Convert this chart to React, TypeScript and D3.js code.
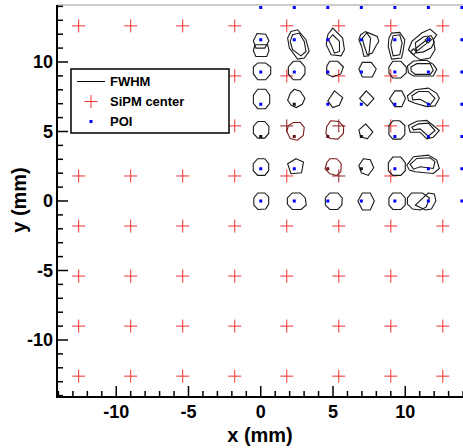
import React from "react";
import * as d3 from "d3";

// SiPM centres (mm), 8 x 8 grid
const sipmX = [-12.6, -9.0, -5.4, -1.8, 1.8, 5.4, 9.0, 12.6];
const sipmY = [-12.6, -9.0, -5.4, -1.8, 1.8, 5.4, 9.0, 12.6];
// crosses that came out dark red in the original
const darkSipm = [[1.8, 5.4], [5.4, 5.4], [5.4, 1.8]];

// points of interest (mm), 7 x 7 grid
const poiX = [0, 2.32, 4.64, 6.96, 9.28, 11.6, 13.92];
const poiY = [0, 2.32, 4.64, 6.96, 9.28, 11.6, 13.92];
// POI markers drawn black / dark red (column, row)
const blackPoi = [[0, 2], [1, 3], [3, 1], [3, 2]];
const redPoi = [[1, 2], [2, 2], [2, 1]];

// FWHM contours: vertices as offsets (mm) from the POI at (col, row)
const fwhmContours = [
  // row 0
  { c: 0, r: 0, pts: [[-0.2, 0.58], [0.28, 0.58], [0.55, 0.29], [0.55, -0.22], [0.34, -0.58], [-0.2, -0.61], [-0.48, -0.29], [-0.48, 0.22]] },
  { c: 1, r: 0, pts: [[-0.14, 0.58], [0.41, 0.58], [0.76, 0.22], [0.83, -0.29], [0.48, -0.61], [-0.14, -0.61], [-0.48, -0.22], [-0.48, 0.22]] },
  { c: 2, r: 0, pts: [[0.14, 0.58], [0.69, 0.58], [1.0, 0.22], [0.97, -0.29], [0.69, -0.61], [0.14, -0.61], [-0.17, -0.29], [-0.17, 0.22]] },
  { c: 3, r: 0, pts: [[0.07, 0.58], [0.62, 0.58], [0.9, 0], [0.62, -0.65], [0.07, -0.65], [-0.24, 0]] },
  { c: 4, r: 0, pts: [[-0.14, 0.58], [0.41, 0.58], [0.72, 0.22], [0.72, -0.29], [0.41, -0.61], [-0.14, -0.61], [-0.41, -0.29], [-0.41, 0.22]] },
  { c: 5, r: 0, pts: [[-1.17, 0.58], [-0.41, 0.58], [0.07, 0.22], [-0.14, -0.43], [-0.55, -0.65], [-1.1, -0.58], [-1.45, -0.22], [-1.45, 0.22]] },
  { c: 5, r: 0, pts: [[0, 0.58], [0.41, 0.51], [0.52, 0], [0.21, -0.58], [-0.21, -0.65], [-0.9, -0.29]] },
  // row 1
  { c: 0, r: 1, pts: [[-0.21, 0.72], [0.28, 0.72], [0.55, 0.36], [0.55, -0.14], [0.28, -0.48], [-0.21, -0.48], [-0.52, -0.14], [-0.52, 0.36]] },
  { c: 1, r: 1, pts: [[0.12, 0.72], [0.64, 0.48], [0.5, -0.29], [-0.23, -0.36], [-0.46, 0.36]] },
  { c: 2, r: 1, red: true, pts: [[0.14, 0.72], [0.62, 0.72], [0.93, 0.36], [0.9, -0.22], [0.62, -0.48], [0.14, -0.36], [-0.19, 0], [-0.07, 0.43]] },
  { c: 3, r: 1, pts: [[0.14, 0.72], [0.62, 0.65], [0.86, 0.07], [0.48, -0.48], [0, -0.29], [-0.17, 0.22]] },
  { c: 4, r: 1, pts: [[-0.14, 0.84], [0.41, 0.84], [0.72, 0.43], [0.72, -0.14], [0.41, -0.48], [-0.14, -0.48], [-0.45, -0.14], [-0.45, 0.43]] },
  { c: 5, r: 1, pts: [[-1.49, 0.26], [-1.03, 0.87], [0, 0.98], [0.58, 0.62], [0.76, 0.02], [0.34, -0.34], [-0.92, -0.22], [-1.31, -0.1]] },
  { c: 5, r: 1, pts: [[-1.26, 0.31], [-0.8, 0.74], [0.12, 0.79], [0.46, 0.51], [0.34, 0.02], [-0.57, 0.14], [-1.03, -0.03]] },
  // row 2
  { c: 0, r: 2, pts: [[-0.21, 1.08], [0.28, 1.08], [0.57, 0.72], [0.55, 0.22], [0.28, -0.12], [-0.21, -0.12], [-0.51, 0.22], [-0.51, 0.72]] },
  { c: 1, r: 2, red: true, pts: [[-0.07, 1.01], [0.41, 1.01], [0.69, 0.65], [0.62, 0.07], [0.21, -0.27], [-0.28, -0.14], [-0.52, 0.36], [-0.41, 0.79]] },
  { c: 2, r: 2, red: true, pts: [[0.21, 1.13], [0.76, 1.08], [1.1, 0.72], [1.08, 0.22], [0.69, -0.19], [0.14, -0.14], [-0.14, 0.22], [-0.07, 0.72]] },
  { c: 3, r: 2, pts: [[0.3, 0.9], [0.8, 0.32], [0.41, -0.17], [-0.05, 0], [-0.17, 0.48]] },
  { c: 4, r: 2, pts: [[-0.14, 1.13], [0.34, 1.13], [0.69, 0.79], [0.69, 0.14], [0.41, -0.19], [-0.14, -0.19], [-0.41, 0.14], [-0.41, 0.79]] },
  { c: 5, r: 2, pts: [[-1.38, 0.79], [-0.8, 1.1], [-0.11, 1.16], [0.34, 0.79], [0.76, 0.43], [0.34, -0.05], [-0.11, -0.17], [-0.57, 0.31], [-1.26, 0.31]] },
  { c: 5, r: 2, pts: [[-1.14, 0.67], [-0.69, 0.91], [0, 0.96], [0.46, 0.43], [0, 0.02], [-0.57, 0.55], [-1.03, 0.48]] },
  // row 3
  { c: 0, r: 3, pts: [[-0.21, 1.08], [0.34, 1.08], [0.62, 0.65], [0.62, 0.07], [0.34, -0.32], [-0.21, -0.32], [-0.51, 0.07], [-0.51, 0.65]] },
  { c: 1, r: 3, pts: [[0, 1.08], [0.41, 0.94], [0.74, 0.43], [0.55, 0], [0.14, -0.24], [-0.21, -0.07], [-0.46, 0.29], [-0.28, 0.79]] },
  { c: 2, r: 3, pts: [[0.46, 0.96], [1.03, 0.48], [0.8, -0.07], [0.34, -0.24], [0, 0.24]] },
  { c: 3, r: 3, pts: [[0.34, 0.96], [0.87, 0.41], [0.41, -0.12], [-0.12, 0.41]] },
  { c: 4, r: 3, pts: [[0, 0.96], [0.48, 0.96], [0.74, 0.43], [0.48, -0.17], [0, -0.17], [-0.37, 0.4]] },
  { c: 5, r: 3, pts: [[-1.45, 0.61], [-0.92, 1.04], [0, 1.16], [0.58, 0.79], [0.76, 0.43], [0.46, -0.12], [-0.11, -0.17], [-0.92, 0.07], [-1.38, 0.27]] },
  { c: 5, r: 3, pts: [[-1.14, 0.61], [-0.69, 0.92], [0, 0.92], [0.46, 0.43], [0.12, -0.04], [-0.57, 0.36], [-1.08, 0.32]] },
  // row 4
  { c: 0, r: 4, pts: [[-0.21, 0.65], [0.34, 0.65], [0.69, 0.36], [0.69, -0.14], [0.34, -0.56], [-0.21, -0.56], [-0.51, -0.14], [-0.51, 0.36]] },
  { c: 1, r: 4, pts: [[-0.07, 0.77], [0.41, 0.77], [0.74, 0.36], [0.74, -0.14], [0.41, -0.56], [-0.07, -0.56], [-0.41, -0.14], [-0.41, 0.36]] },
  { c: 2, r: 4, pts: [[0.14, 0.77], [0.69, 0.77], [1.08, 0.36], [0.9, -0.14], [0.34, -0.36], [-0.07, -0.14], [-0.07, 0.43]] },
  { c: 3, r: 4, pts: [[0.07, 0.69], [0.69, 0.69], [1.03, 0.22], [0.76, -0.36], [0.07, -0.36], [-0.17, 0.22]] },
  { c: 4, r: 4, pts: [[-0.14, 0.77], [0.41, 0.77], [0.79, 0.36], [0.79, -0.07], [0.41, -0.43], [-0.14, -0.43], [-0.41, -0.07], [-0.41, 0.36]] },
  { c: 5, r: 4, pts: [[-1.45, 0.43], [-1.03, 0.79], [-0.11, 0.84], [0.34, 0.55], [0.58, 0.19], [0.34, -0.29], [-1.03, -0.29], [-1.38, -0.05]] },
  { c: 5, r: 4, pts: [[-1.21, 0.36], [-0.8, 0.6], [0.12, 0.6], [0.34, 0.12], [0.12, -0.17], [-0.92, -0.17], [-1.19, 0.07]] },
  // row 5
  { c: 0, r: 5, pts: [[-0.26, 0.45], [0.34, 0.4], [0.57, -0.07], [0.28, -0.6], [-0.34, -0.6], [-0.51, -0.07]] },
  { c: 0, r: 5, pts: [[-0.41, -0.36], [0.48, -0.36], [0.57, -0.79], [0.41, -1.2], [-0.34, -1.2], [-0.51, -0.79]] },
  { c: 1, r: 5, pts: [[-0.23, 0.6], [0.23, 0.72], [0.81, 0], [1.03, -0.84], [0.69, -1.32], [0.23, -1.39], [-0.34, -0.6], [-0.46, 0.12]] },
  { c: 1, r: 5, pts: [[-0.12, 0.36], [0.34, 0.48], [0.69, -0.12], [0.81, -0.84], [0.46, -1.16], [-0.12, -0.72], [-0.28, -0.12]] },
  { c: 2, r: 5, pts: [[0.34, 0.84], [1.03, 0.12], [1.15, -0.72], [0.92, -1.16], [0.23, -1.08], [-0.11, -0.36], [0, 0.36]] },
  { c: 2, r: 5, pts: [[0.34, 0.36], [0.81, -0.12], [0.81, -0.84], [0.46, -0.96], [0.28, -0.48], [0.05, 0]] },
  { c: 3, r: 5, pts: [[-0.05, 0.36], [0.3, 0.6], [0.64, 0.12], [0.57, -0.6], [0.52, -1.16], [0.18, -1.2], [0.02, -0.48], [-0.17, 0]] },
  { c: 3, r: 5, pts: [[0.41, 0.53], [1.1, 0.24], [1.21, -0.12], [0.99, -0.48], [0.76, -0.96], [0.41, -1.08], [0.18, -0.36], [0.07, 0.12]] },
  { c: 4, r: 5, pts: [[-0.23, 0.48], [0.34, 0.53], [0.69, 0], [0.57, -0.84], [0.46, -1.32], [-0.23, -1.39], [-0.46, -0.48], [-0.41, 0.12]] },
  { c: 4, r: 5, pts: [[-0.12, 0.29], [0.34, 0.36], [0.5, -0.24], [0.34, -1.08], [-0.12, -1.16], [-0.28, -0.36]] },
  { c: 5, r: 5, pts: [[-1.38, -0.72], [-1.14, -0.12], [-0.46, 0.48], [0.12, 0.77], [0.58, 0.36], [0.34, 0], [0.46, -0.72], [0.12, -1.32], [-0.57, -1.44], [-0.92, -1.2]] },
  { c: 5, r: 5, pts: [[-0.9, -0.22], [-0.34, 0.22], [0.21, 0.29], [0.41, -0.14], [0.21, -0.58], [-0.34, -0.87], [-0.83, -0.94]] },
  { c: 5, r: 5, pts: [[-1.03, -0.65], [-0.83, -0.87], [-1.03, -1.08], [-1.24, -0.87]] },
  { c: 5, r: 5, pts: [[0, 0.22], [0.21, 0], [0, -0.22], [-0.21, 0]] },
  { c: 5, r: 5, pts: [[-0.9, -0.65], [-0.21, -0.07], [-0.07, -0.22], [-0.76, -0.79]] },
];

const majorTicks = [-10, -5, 0, 5, 10];
const minorTicks = d3.range(-14, 15, 1);

const legendItems = ["FWHM", "SiPM center", "POI"];

const FONT = "'Liberation Sans', Arial, Helvetica, sans-serif";

const App = () => {
  const width = 463;
  const height = 448;
  const plot = { left: 57, right: 464.5, top: 5, bottom: 397 };

  const x = d3.scaleLinear().domain([-14.1, 14.1]).range([plot.left, plot.right]);
  const y = d3.scaleLinear().domain([-14.1, 14.1]).range([plot.bottom, plot.top]);

  const line = d3.line<number[]>()
    .x(d => x(d[0]))
    .y(d => y(d[1]))
    .curve(d3.curveLinearClosed);

  const isIn = (list: number[][], a: number, b: number) =>
    list.some(p => Math.abs(p[0] - a) < 1e-6 && Math.abs(p[1] - b) < 1e-6);

  const cross = 6.5;

  // SiPM centre crosses
  const sipms: { cx: number; cy: number; dark: boolean }[] = [];
  sipmX.forEach(sx => sipmY.forEach(sy => {
    sipms.push({ cx: x(sx), cy: y(sy), dark: isIn(darkSipm, sx, sy) });
  }));

  // POI markers
  const pois: { px: number; py: number; color: string }[] = [];
  poiX.forEach((px, i) => poiY.forEach((py, j) => {
    let color = "#0000ff";
    if (isIn(blackPoi, i, j)) color = "#111";
    if (isIn(redPoi, i, j)) color = "#6a1010";
    pois.push({ px: x(px), py: y(py), color });
  }));

  const legend = { x: 71, y: 69, w: 158, h: 64 };

  return (
    <svg width={width} height={height} style={{ position: "absolute", left: 0, top: 0, background: "#fff" }}>
      <rect x={0} y={0} width={width} height={height} fill="#fff" />

      {/* frame top */}
      <line x1={plot.left} x2={width} y1={plot.top} y2={plot.top} stroke="#999" strokeWidth={1} />

      {/* SiPM centres */}
      {sipms.map((s, k) => (
        <g key={"s" + k} stroke={s.dark ? "#8a1c1c" : "#f03030"} strokeWidth={1}>
          <line x1={s.cx - cross} x2={s.cx + cross} y1={s.cy} y2={s.cy} />
          <line x1={s.cx} x2={s.cx} y1={s.cy - cross} y2={s.cy + cross} />
        </g>
      ))}

      {/* FWHM contours */}
      {fwhmContours.map((f, k) => (
        <path
          key={"f" + k}
          d={line(f.pts.map(p => [poiX[f.c] + p[0], poiY[f.r] + p[1]])) || ""}
          fill="none"
          stroke={f.red ? "#7a1a1a" : "#1a1a1a"}
          strokeWidth={1.1}
        />
      ))}

      {/* POI */}
      {pois.map((p, k) => (
        <rect key={"p" + k} x={p.px - 1.5} y={p.py - 1.5} width={3} height={3} fill={p.color} />
      ))}

      {/* legend */}
      <rect x={legend.x} y={legend.y} width={legend.w} height={legend.h} fill="#fff" stroke="#000" strokeWidth={1.5} />
      <line x1={77} x2={105} y1={81.5} y2={81.5} stroke="#000" strokeWidth={1} />
      <g stroke="#f03030" strokeWidth={1}>
        <line x1={91 - cross} x2={91 + cross} y1={101.5} y2={101.5} />
        <line x1={91} x2={91} y1={101.5 - cross} y2={101.5 + cross} />
      </g>
      <rect x={89.5} y={120} width={3} height={3} fill="#0000ff" />
      {legendItems.map((t, k) => (
        <text key={t} x={110} y={86 + k * 20} fontFamily={FONT} fontWeight="bold" fontSize={13} fill="#000">{t}</text>
      ))}

      {/* axes */}
      <line x1={plot.left} x2={plot.left} y1={plot.top} y2={plot.bottom} stroke="#000" strokeWidth={2} />
      <line x1={plot.left - 1} x2={width} y1={plot.bottom} y2={plot.bottom} stroke="#000" strokeWidth={2} />

      {minorTicks.map(t => {
        const major = majorTicks.includes(t);
        const len = major ? 11 : 6;
        return (
          <g key={"t" + t} stroke="#000" strokeWidth={1.5}>
            <line x1={x(t)} x2={x(t)} y1={plot.bottom} y2={plot.bottom - len} />
            <line x1={plot.left} x2={plot.left + len} y1={y(t)} y2={y(t)} />
          </g>
        );
      })}

      {majorTicks.map(t => (
        <text key={"xl" + t} x={x(t)} y={418} textAnchor="middle" fontFamily={FONT} fontWeight="bold" fontSize={18} fill="#000">{t}</text>
      ))}
      {majorTicks.map(t => (
        <text key={"yl" + t} x={53} y={y(t)} dy="0.36em" textAnchor="end" fontFamily={FONT} fontWeight="bold" fontSize={18} fill="#000">{t}</text>
      ))}

      <text x={260} y={442} textAnchor="middle" fontFamily={FONT} fontWeight="bold" fontSize={20} fill="#000">x (mm)</text>
      <text transform="translate(26,200) rotate(-90)" textAnchor="middle" fontFamily={FONT} fontWeight="bold" fontSize={20} fill="#000">y (mm)</text>
    </svg>
  );
};

export default App;
